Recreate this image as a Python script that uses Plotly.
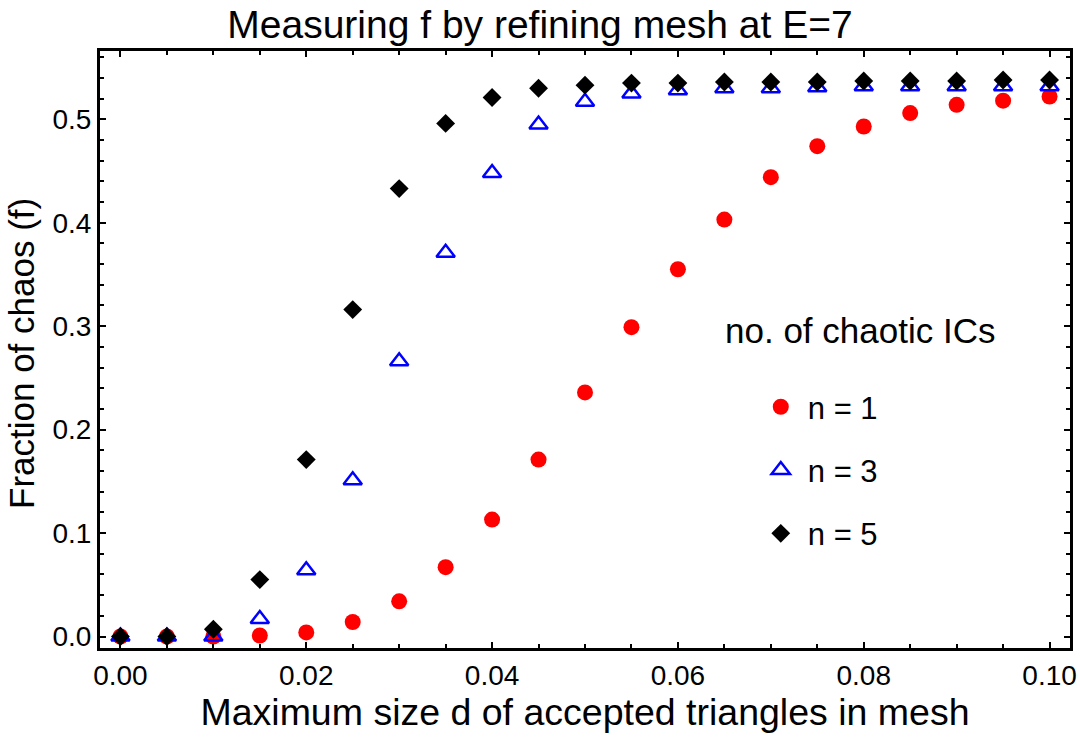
import plotly.graph_objects as go

d_values = [0.000, 0.005, 0.010, 0.015, 0.020, 0.025, 0.030, 0.035, 0.040, 0.045, 0.050,
            0.055, 0.060, 0.065, 0.070, 0.075, 0.080, 0.085, 0.090, 0.095, 0.100]

f_n1 = [0.000, 0.000, 0.000, 0.001, 0.004, 0.014, 0.034, 0.067, 0.113, 0.171, 0.236,
        0.299, 0.355, 0.403, 0.444, 0.474, 0.493, 0.506, 0.514, 0.518, 0.522]
f_n3 = [0.000, 0.000, 0.000, 0.017, 0.064, 0.151, 0.266, 0.371, 0.448, 0.495, 0.517,
        0.525, 0.528, 0.530, 0.530, 0.531, 0.532, 0.532, 0.532, 0.532, 0.532]
f_n5 = [0.000, 0.000, 0.007, 0.055, 0.171, 0.316, 0.433, 0.496, 0.521, 0.530, 0.533,
        0.535, 0.535, 0.536, 0.536, 0.536, 0.537, 0.537, 0.537, 0.538, 0.538]

series_names = ["n = 1", "n = 3", "n = 5"]
legend_title = "no. of chaotic ICs"
title_text = "Measuring f by refining mesh at E=7"
x_title = "Maximum size d of accepted triangles in mesh"
y_title = "Fraction of chaos (f)"

FONT = "Liberation Sans, Arial, Helvetica, sans-serif"

W, H = 1080, 742
L, R, T, B = 100, 10, 51, 94
PW, PH = W - L - R, H - T - B

fig = go.Figure()
fig.add_trace(go.Scatter(
    x=d_values, y=f_n1, mode="markers", name=series_names[0], legendgroup="a",
    marker=dict(symbol="circle", size=16, color="#FF0000", line=dict(width=0))))
fig.add_trace(go.Scatter(
    x=d_values, y=f_n3, mode="markers", name=series_names[1], legendgroup="b",
    marker=dict(symbol="triangle-up-open", size=16, color="#0000FF",
                line=dict(width=2.5, color="#0000FF"))))
fig.add_trace(go.Scatter(
    x=d_values, y=f_n5, mode="markers", name=series_names[2], legendgroup="c",
    marker=dict(symbol="diamond", size=14.5, color="#000000", line=dict(width=0))))

axis_common = dict(
    showline=True, linewidth=3, linecolor="black", mirror="ticks",
    ticks="inside", ticklen=6, tickwidth=2, tickcolor="black",
    showgrid=False, zeroline=False, ticklabeloverflow="allow",
    tickfont=dict(family=FONT, size=28, color="black"),
)

fig.update_xaxes(
    range=[-0.0022, 0.1022], tick0=0, dtick=0.02, tickformat=".2f",
    minor=dict(dtick=0.005, ticks="inside", ticklen=4, tickwidth=1.5, tickcolor="black"),
    title=dict(text=x_title, font=dict(family=FONT, size=37.5, color="black"), standoff=8),
    **axis_common)
fig.update_yaxes(
    range=[-0.0111, 0.566], tick0=0, dtick=0.1, tickformat=".1f",
    minor=dict(dtick=0.02, ticks="inside", ticklen=4, tickwidth=1.5, tickcolor="black"),
    **axis_common)

fig.update_layout(
    width=W, height=H,
    margin=dict(l=L, r=R, t=T, b=B, autoexpand=False),
    paper_bgcolor="white", plot_bgcolor="white",
    title=dict(text=title_text, x=0.5, xanchor="center", y=1 - 24 / H, yanchor="middle",
               font=dict(family=FONT, size=39, color="black")),
    showlegend=True,
    legend=dict(
        x=0.674, y=0.298, xanchor="left", yanchor="middle",
        font=dict(family=FONT, size=31, color="black"),
        bgcolor="rgba(0,0,0,0)", borderwidth=0,
        tracegroupgap=20, itemsizing="trace", itemwidth=44,
    ),
    annotations=[
        dict(text=legend_title, x=(723 - L) / PW, y=(H - B - 330) / PH,
             xref="paper", yref="paper", xanchor="left", yanchor="middle", showarrow=False,
             font=dict(family=FONT, size=35, color="black")),
        dict(text=y_title, x=(21 - L) / PW, y=(H - B - 354) / PH, textangle=-90,
             xref="paper", yref="paper", xanchor="center", yanchor="middle", showarrow=False,
             font=dict(family=FONT, size=35, color="black")),
    ],
)

fig.write_html("out.html", config={"displayModeBar": False},
               post_script="document.body.style.margin='0';")
